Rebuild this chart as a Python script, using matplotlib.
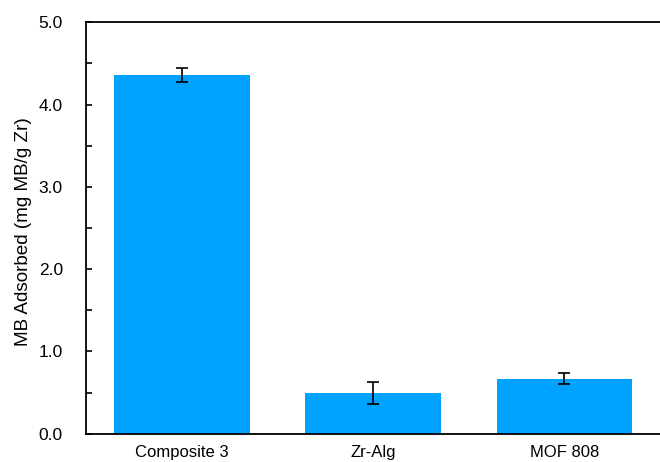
import matplotlib
matplotlib.use("Agg")
import matplotlib.pyplot as plt
from matplotlib.ticker import MultipleLocator, FormatStrFormatter

plt.rcParams['font.family'] = ['Liberation Sans', 'DejaVu Sans']

# adsorption data
samples = ["Composite 3", "Zr-Alg", "MOF 808"]
mb_adsorbed = [4.36, 0.50, 0.67]
mb_err = [0.085, 0.135, 0.065]

fig = plt.figure(figsize=(6.6, 4.62), dpi=100)
ax = fig.add_axes([0.131, 0.061, 0.869, 0.891])

x = range(len(samples))
ax.bar(x, mb_adsorbed, width=0.71, color='#00A2FF', zorder=2)
ax.errorbar(x, mb_adsorbed, yerr=mb_err, fmt='none', ecolor='black',
            elinewidth=1.2, capsize=4, capthick=1.2, zorder=3)

ax.set_xlim(-0.5, 2.5)
ax.set_ylim(0, 5.0)
ax.set_xticks(list(x))
ax.set_xticklabels(samples, fontsize=12)
ax.tick_params(axis='x', length=0, pad=8)

ax.yaxis.set_major_locator(MultipleLocator(1.0))
ax.yaxis.set_minor_locator(MultipleLocator(0.5))
ax.yaxis.set_major_formatter(FormatStrFormatter('%.1f'))
ax.tick_params(axis='y', which='both', direction='in', length=4, width=1.2,
               labelsize=12.5, pad=17)
ax.set_ylabel("MB Adsorbed (mg MB/g Zr)", fontsize=13.6)
ax.yaxis.set_label_coords(-0.095, 0.49)

for side in ['left', 'bottom', 'top']:
    ax.spines[side].set_linewidth(1.3)
ax.spines['right'].set_visible(False)

fig.savefig("out.png", dpi=100)
